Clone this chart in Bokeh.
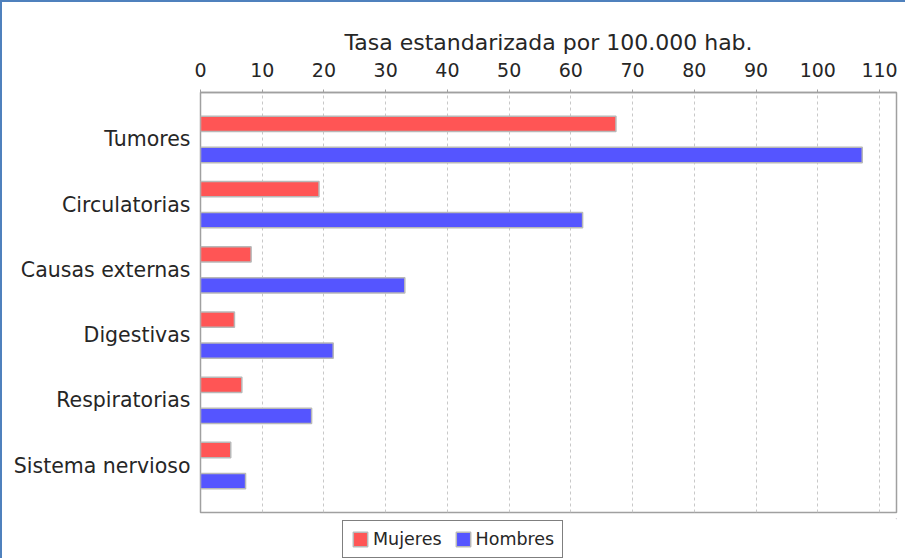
from bokeh.plotting import figure
from bokeh.layouts import column
from bokeh.models import ColumnDataSource, FactorRange, Range1d, FixedTicker, Legend, LegendItem
from bokeh.transform import dodge
from bokeh.embed import file_html
from bokeh.resources import INLINE

categories = ["Tumores", "Circulatorias", "Causas externas", "Digestivas", "Respiratorias", "Sistema nervioso"]
mujeres = [67.3, 19.2, 8.2, 5.5, 6.7, 4.9]
hombres = [107.2, 61.9, 33.1, 21.5, 18.0, 7.3]
x_ticks = [0, 10, 20, 30, 40, 50, 60, 70, 80, 90, 100, 110]
axis_title = "Tasa estandarizada por 100.000 hab."
series_names = ["Mujeres", "Hombres"]
colors = ["#FF5555", "#5555FF"]

FONT = "DejaVu Sans"
TXT = "#262626"
BAR_LINE = "#b8b8b8"
FRAME_BLUE = "2px solid #4f81bd"

src = ColumnDataSource(dict(cat=categories, m=mujeres, h=hombres))

y_range = FactorRange(factors=list(reversed(categories)), range_padding=0.22,
                      range_padding_units="absolute")
p = figure(width=905, height=518, y_range=y_range, x_range=Range1d(0, 112.75),
           x_axis_location="above", output_backend="svg", toolbar_location=None,
           min_border_left=198, min_border_right=11, min_border_top=90, min_border_bottom=8)
p.styles = {"border-top": FRAME_BLUE, "border-left": FRAME_BLUE}

p.hbar(y=dodge("cat", 0.238, range=p.y_range), right="m", left=0, height=0.235,
       source=src, fill_color=colors[0], line_color=BAR_LINE, line_width=1.5)
p.hbar(y=dodge("cat", -0.238, range=p.y_range), right="h", left=0, height=0.235,
       source=src, fill_color=colors[1], line_color=BAR_LINE, line_width=1.5)

p.outline_line_color = "#a0a0a0"
p.outline_line_width = 1.5
p.background_fill_color = "white"
p.border_fill_color = "white"

xa = p.xaxis[0]
xa.ticker = FixedTicker(ticks=x_ticks)
xa.axis_label = axis_title
xa.axis_label_text_font = FONT
xa.axis_label_text_font_size = "22px"
xa.axis_label_text_font_style = "normal"
xa.axis_label_text_color = TXT
xa.axis_label_standoff = 5
xa.major_label_text_font = FONT
xa.major_label_text_font_size = "19px"
xa.major_label_text_color = TXT
xa.major_label_standoff = 13
xa.axis_line_color = "#a0a0a0"
xa.axis_line_width = 1.5
xa.major_tick_line_color = "#a0a0a0"
xa.major_tick_out = 3
xa.major_tick_in = 0
xa.minor_tick_line_color = None

ya = p.yaxis[0]
ya.axis_line_color = None
ya.major_tick_line_color = None
ya.minor_tick_line_color = None
ya.major_label_text_font = FONT
ya.major_label_text_font_size = "20.5px"
ya.major_label_text_color = TXT
ya.major_label_standoff = 4

p.ygrid.grid_line_color = None
p.xgrid.ticker = FixedTicker(ticks=x_ticks)
p.xgrid.grid_line_color = "#c8c8c8"
p.xgrid.grid_line_dash = "3 3"
p.xgrid.grid_line_width = 1

# legend strip below the chart (same horizontal borders as the chart)
lf = figure(width=905, height=40, x_range=Range1d(0, 1), y_range=Range1d(0, 1),
            x_axis_type=None, y_axis_type=None, output_backend="svg", toolbar_location=None,
            min_border_left=198, min_border_right=11, min_border_top=0, min_border_bottom=0)
lf.styles = {"border-left": FRAME_BLUE}
lf.outline_line_color = None
lf.grid.visible = False
lf.background_fill_color = "white"
lf.border_fill_color = "white"
lr_m = lf.hbar(y=[5], right=[5], left=[4], height=0.1, fill_color=colors[0], line_color=BAR_LINE, line_width=1.5)
lr_h = lf.hbar(y=[5], right=[5], left=[4], height=0.1, fill_color=colors[1], line_color=BAR_LINE, line_width=1.5)

legend = Legend(items=[LegendItem(label=series_names[0], renderers=[lr_m]),
                       LegendItem(label=series_names[1], renderers=[lr_h])],
                orientation="horizontal", location=(142, 0))
legend.border_line_color = "black"
legend.border_line_width = 1.5
legend.label_text_font = FONT
legend.label_text_font_size = "17.5px"
legend.label_text_color = TXT
legend.glyph_width = 18
legend.glyph_height = 18
legend.padding = 8
legend.spacing = 12
legend.label_standoff = 4
legend.margin = 0
legend.background_fill_color = "white"
legend.background_fill_alpha = 1
lf.add_layout(legend, "center")

layout = column(p, lf, spacing=0)
open("out.html", "w").write(file_html(layout, INLINE))
